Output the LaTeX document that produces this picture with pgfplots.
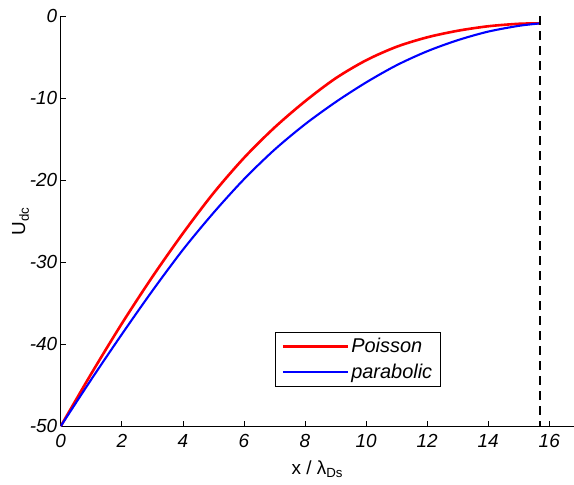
\documentclass[border=0pt]{standalone}
\usepackage{fontspec}
\setmainfont{Liberation Sans}
\usepackage{pgfplots}
\pgfplotsset{compat=1.18}

% potential profiles
\pgfplotstableread{
x     u
0     -50
1     -43.6
2     -37.5
3     -31.8
4     -26.5
5     -21.6
6     -17.3
7     -13.6
8     -10.4
9     -7.6
10    -5.4
11    -3.75
12    -2.6
13    -1.8
14    -1.25
15    -0.95
15.7  -0.9
}\poisson
\pgfplotstableread{
x     u
0     -50
1     -44.3
2     -38.8
3     -33.5
4     -28.5
5     -24.0
6     -19.9
7     -16.3
8     -13.2
9     -10.5
10    -8.1
11    -6.0
12    -4.3
13    -2.95
14    -1.9
15    -1.2
15.7  -0.9
}\parabolic

\begin{document}
\begin{tikzpicture}
\begin{axis}[
  scale only axis, width=513bp, height=410bp,
  xmin=0, xmax=16.81, ymin=-50, ymax=0,
  axis x line=bottom, axis y line=left,
  axis line style={-, line width=0.7pt},
  tick align=inside, major tick length=5bp,
  tick style={black, line width=0.7pt},
  xtick={0,2,...,16}, ytick={-50,-40,...,0},
  /pgf/number format/assume math mode=true,
  ticklabel style={font=\fontsize{19}{22}\selectfont\itshape},
  xticklabel style={yshift=-5bp},
  label style={font=\fontsize{19}{22}\selectfont},
  xlabel={x / λ\textsubscript{Ds}},
  ylabel={U\textsubscript{dc}},
  xlabel style={yshift=-6bp},
  ylabel style={yshift=-6bp},
  legend style={at={(0.579,0.163)}, anchor=center, draw=black, line width=0.6pt,
    font=\fontsize{20}{24}\selectfont\itshape, inner xsep=6bp, inner ysep=4bp,
    row sep=6bp},
  legend cell align=left,
  legend image code/.code={\draw[#1] (0bp,0bp) -- (65bp,0bp);},
]
\addplot[red, line width=2.6bp, smooth] table[x=x, y=u] {\poisson};
\addlegendentry{Poisson}
\addplot[blue, line width=2.1bp, smooth] table[x=x, y=u] {\parabolic};
\addlegendentry{parabolic}
\addplot[black, line width=1.8bp, dash pattern=on 9bp off 6bp, forget plot]
  coordinates {(15.7,0) (15.7,-50)};
\coordinate (bl) at (rel axis cs:0,0);
\coordinate (tr) at (rel axis cs:1,1);
\end{axis}
\pgfresetboundingbox
\path ([shift={(-60.7bp,-58bp)}]bl) rectangle ([shift={(0bp,16bp)}]tr);
\end{tikzpicture}
\end{document}
